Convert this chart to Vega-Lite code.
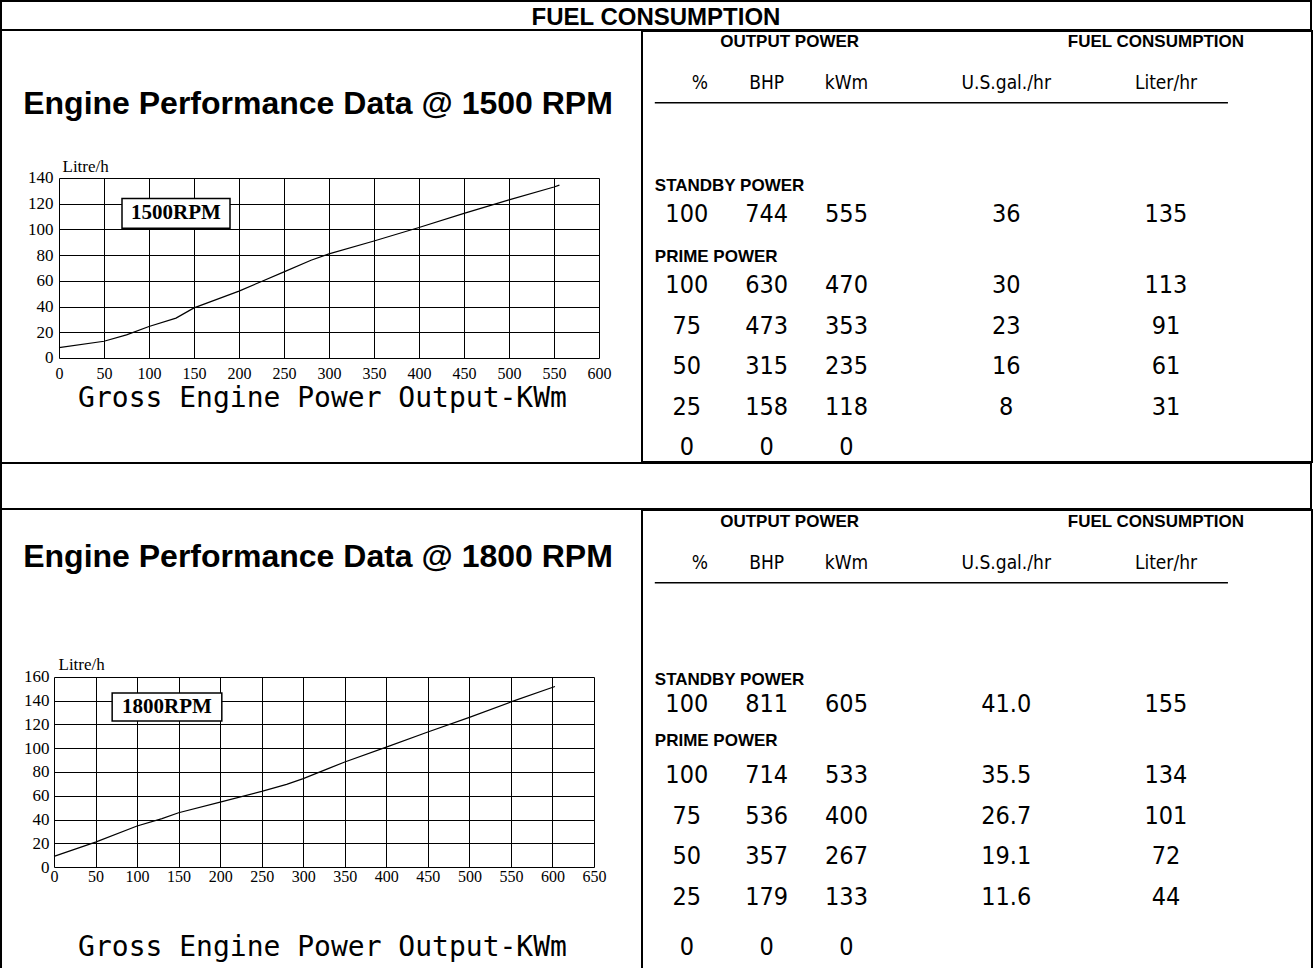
{
  "$schema": "https://vega.github.io/schema/vega-lite/v6.json",
  "padding": 0,
  "background": "white",
  "spacing": -4,
  "config": {
    "view": {"stroke": "black", "strokeWidth": 2},
    "font": "Liberation Sans",
    "mark": {"color": "black"}
  },
  "datasets": {
    "c1500": [
      {"kw": 0, "lph": 8}, {"kw": 50, "lph": 13}, {"kw": 75, "lph": 18}, {"kw": 100, "lph": 24.5},
      {"kw": 130, "lph": 31}, {"kw": 150, "lph": 39}, {"kw": 200, "lph": 52}, {"kw": 225, "lph": 59.5},
      {"kw": 250, "lph": 67}, {"kw": 280, "lph": 76}, {"kw": 300, "lph": 81}, {"kw": 350, "lph": 91},
      {"kw": 400, "lph": 101.5}, {"kw": 450, "lph": 112.5}, {"kw": 500, "lph": 123}, {"kw": 550, "lph": 133},
      {"kw": 556, "lph": 134.5}
    ],
    "c1800": [
      {"kw": 0, "lph": 9}, {"kw": 50, "lph": 21}, {"kw": 100, "lph": 34.5}, {"kw": 130, "lph": 40.7},
      {"kw": 150, "lph": 45.7}, {"kw": 200, "lph": 54.7}, {"kw": 250, "lph": 63.7}, {"kw": 280, "lph": 69.6},
      {"kw": 300, "lph": 74.4}, {"kw": 330, "lph": 82.8}, {"kw": 350, "lph": 88.4}, {"kw": 400, "lph": 101},
      {"kw": 450, "lph": 113.7}, {"kw": 500, "lph": 126}, {"kw": 550, "lph": 139}, {"kw": 603, "lph": 152}
    ],
    "perf1500": [
      {"row": "r100s", "pct": "100", "bhp": "744", "kwm": "555", "gal": "36", "lit": "135"},
      {"row": "r100", "pct": "100", "bhp": "630", "kwm": "470", "gal": "30", "lit": "113"},
      {"row": "r75", "pct": "75", "bhp": "473", "kwm": "353", "gal": "23", "lit": "91"},
      {"row": "r50", "pct": "50", "bhp": "315", "kwm": "235", "gal": "16", "lit": "61"},
      {"row": "r25", "pct": "25", "bhp": "158", "kwm": "118", "gal": "8", "lit": "31"},
      {"row": "r0", "pct": "0", "bhp": "0", "kwm": "0"}
    ],
    "perf1800": [
      {"row": "r100s", "pct": "100", "bhp": "811", "kwm": "605", "gal": "41.0", "lit": "155"},
      {"row": "r100", "pct": "100", "bhp": "714", "kwm": "533", "gal": "35.5", "lit": "134"},
      {"row": "r75", "pct": "75", "bhp": "536", "kwm": "400", "gal": "26.7", "lit": "101"},
      {"row": "r50", "pct": "50", "bhp": "357", "kwm": "267", "gal": "19.1", "lit": "72"},
      {"row": "r25", "pct": "25", "bhp": "179", "kwm": "133", "gal": "11.6", "lit": "44"},
      {"row": "r0", "pct": "0", "bhp": "0", "kwm": "0"}
    ],
    "groups": [
      {"row": "grp", "col": "bhp", "text": "OUTPUT POWER"},
      {"row": "grp", "col": "lit", "text": "FUEL CONSUMPTION"}
    ],
    "heads": [
      {"row": "hdr", "col": "pct", "text": "%"},
      {"row": "hdr", "col": "bhp", "text": "BHP"},
      {"row": "hdr", "col": "kwm", "text": "kWm"},
      {"row": "hdr", "col": "gal", "text": "U.S.gal./hr"},
      {"row": "hdr", "col": "lit", "text": "Liter/hr"}
    ],
    "underline": [{"row": "ul", "col": "pct", "end": "lit"}],
    "sections": [
      {"row": "standby", "col": "pct", "text": "STANDBY POWER"},
      {"row": "prime", "col": "pct", "text": "PRIME POWER"}
    ]
  },
  "vconcat": [
    {
      "width": 1310, "height": 29,
      "view": {"stroke": "black", "strokeWidth": 2},
      "data": {"values": [{"title": "FUEL CONSUMPTION"}]},
      "mark": {"type": "text", "font": "Liberation Sans", "fontWeight": "bold", "fontSize": 24, "align": "center", "baseline": "middle", "color": "black", "dy": 2},
      "encoding": {"text": {"field": "title", "type": "nominal"}}
    },
    {
      "bounds": "flush", "spacing": 0,
      "hconcat": [
        {"width": 0.01, "height": 431, "view": {"stroke": "black", "strokeWidth": 2}, "data": {"values": []}, "mark": "text", "encoding": {}},
        {"width": 57, "height": 431, "view": {"stroke": null}, "data": {"values": []}, "mark": "text", "encoding": {}},
        {
          "width": 540, "height": 431,
          "view": {"stroke": null},
          "resolve": {"axis": {"x": "independent", "y": "independent"}},
          "layer": [
            {
              "data": {"name": "c1500"},
              "mark": {"type": "line", "color": "black", "strokeWidth": 1.2},
              "encoding": {
                "x": {"field": "kw", "type": "quantitative",
                  "scale": {"domain": [0, 600], "nice": false, "zero": false},
                  "axis": {"orient": "top", "offset": -147, "values": [0,50,100,150,200,250,300,350,400,450,500,550,600], "tickSize": -180, "tickColor": "black", "tickWidth": 1, "labels": false, "domain": false, "grid": false, "title": null}},
                "y": {"field": "lph", "type": "quantitative",
                  "scale": {"domain": [-80.89, 254.33], "nice": false, "zero": false},
                  "axis": {"orient": "left", "values": [0,20,40,60,80,100,120,140], "grid": true, "gridColor": "black", "gridWidth": 1, "gridOpacity": 1, "domain": false, "ticks": false, "labelFont": "Liberation Serif", "labelFontSize": 17, "labelColor": "black", "labelPadding": 6, "title": "Litre/h", "titleAngle": 0, "titleAlign": "left", "titleBaseline": "bottom", "titleX": 3, "titleY": 144, "titleFont": "Liberation Serif", "titleFontSize": 17, "titleFontWeight": "normal", "titleColor": "black"}}
              }
            },
            {
              "data": {"values": [{"heading": "Engine Performance Data @ 1500 RPM"}]},
              "mark": {"type": "text", "font": "Liberation Sans", "fontWeight": "bold", "fontSize": 32, "color": "black", "align": "center", "baseline": "middle"},
              "encoding": {
                "x": {"datum": 287.8, "type": "quantitative",
                  "axis": {"orient": "bottom", "offset": -104, "values": [0,50,100,150,200,250,300,350,400,450,500,550,600], "ticks": false, "domain": false, "grid": false, "labelFont": "Liberation Serif", "labelFontSize": 16, "labelColor": "black", "labelPadding": 7, "labelFlush": false, "title": "Gross Engine Power Output-KWm", "titleFont": "DejaVu Sans Mono", "titleFontSize": 28, "titleFontWeight": "normal", "titleColor": "black", "titleBaseline": "middle", "titleX": 263, "titleY": 40}},
                "y": {"datum": 197.6, "type": "quantitative", "axis": null},
                "text": {"field": "heading", "type": "nominal"}
              }
            },
            {
              "data": {"values": [{"rpm": "1500RPM"}]},
              "mark": {"type": "rect", "fill": "white", "stroke": "black", "strokeWidth": 1.5},
              "encoding": {
                "x": {"datum": 70, "type": "quantitative", "axis": null}, "x2": {"datum": 190},
                "y": {"datum": 101, "type": "quantitative", "axis": null}, "y2": {"datum": 124}
              }
            },
            {
              "data": {"values": [{"rpm": "1500RPM"}]},
              "mark": {"type": "text", "font": "Liberation Serif", "fontWeight": "bold", "fontSize": 21, "color": "black", "align": "center", "baseline": "middle"},
              "encoding": {
                "x": {"datum": 130, "type": "quantitative", "axis": null},
                "y": {"datum": 112.5, "type": "quantitative", "axis": null},
                "text": {"field": "rpm", "type": "nominal"}
              }
            }
          ]
        },
        {"width": 43, "height": 431, "view": {"stroke": null}, "data": {"values": []}, "mark": "text", "encoding": {}},
        {
          "width": 670, "height": 431,
          "encoding": {
            "x": {"field": "col", "type": "nominal", "axis": null,
              "scale": {"type": "point", "domain": ["pct","bhp","kwm","c3","gal","c5","lit","c7"], "range": [44.8, 603.8], "padding": 0}},
            "y": {"field": "row", "type": "nominal", "axis": null,
              "scale": {"type": "point", "domain": ["grp","~1","~2","~3","hdr","~5","ul","~7","~8","~9","~10","~11","~12","~13","standby","~15","~16","r100s","~18","~19","~20","prime","~22","~23","r100","~25","~26","~27","r75","~29","~30","~31","r50","~33","~34","~35","r25","~37","~38","~39","r0"], "range": [11, 416], "padding": 0}}
          },
          "layer": [
            {
              "data": {"name": "groups"},
              "transform": [{"filter": "datum.text == 'OUTPUT POWER'"}],
              "mark": {"type": "text", "font": "Liberation Sans", "fontWeight": "bold", "fontSize": 17, "color": "black", "align": "center", "baseline": "middle", "dx": 23},
              "encoding": {"text": {"field": "text", "type": "nominal"}}
            },
            {
              "data": {"name": "groups"},
              "transform": [{"filter": "datum.text == 'FUEL CONSUMPTION'"}],
              "mark": {"type": "text", "font": "Liberation Sans", "fontWeight": "bold", "fontSize": 17, "color": "black", "align": "center", "baseline": "middle", "dx": -10},
              "encoding": {"text": {"field": "text", "type": "nominal"}}
            },
            {
              "data": {"name": "heads"},
              "transform": [{"filter": "datum.col == 'pct'"}],
              "mark": {"type": "text", "font": "DejaVu Sans Condensed, Liberation Sans", "fontSize": 19, "color": "black", "align": "center", "baseline": "middle", "dx": 13},
              "encoding": {"text": {"field": "text", "type": "nominal"}}
            },
            {
              "data": {"name": "heads"},
              "transform": [{"filter": "datum.col != 'pct'"}],
              "mark": {"type": "text", "font": "DejaVu Sans Condensed, Liberation Sans", "fontSize": 19, "color": "black", "align": "center", "baseline": "middle"},
              "encoding": {"text": {"field": "text", "type": "nominal"}}
            },
            {
              "data": {"name": "underline"},
              "mark": {"type": "rule", "color": "black", "strokeWidth": 1.5, "xOffset": -32, "x2Offset": 62},
              "encoding": {"x2": {"field": "end"}}
            },
            {
              "data": {"name": "sections"},
              "mark": {"type": "text", "font": "Liberation Sans", "fontWeight": "bold", "fontSize": 17, "color": "black", "align": "left", "baseline": "middle", "dx": -32, "dy": 2},
              "encoding": {"text": {"field": "text", "type": "nominal"}}
            },
            {
              "data": {"name": "perf1500"},
              "transform": [{"fold": ["pct", "bhp", "kwm", "gal", "lit"], "as": ["col", "text"]}, {"filter": "isValid(datum.text)"}],
              "mark": {"type": "text", "font": "DejaVu Sans Condensed, Liberation Sans", "fontSize": 25, "color": "black", "align": "center", "baseline": "middle"},
              "encoding": {"text": {"field": "text", "type": "nominal"}}
            }
          ]
        }
      ]
    },
    {"width": 1310, "height": 46, "view": {"stroke": "black", "strokeWidth": 2}, "data": {"values": []}, "mark": "text", "encoding": {}},
    {
      "bounds": "flush", "spacing": 0,
      "hconcat": [
        {"width": 0.01, "height": 462, "view": {"stroke": "black", "strokeWidth": 2}, "data": {"values": []}, "mark": "text", "encoding": {}},
        {"width": 52, "height": 462, "view": {"stroke": null}, "data": {"values": []}, "mark": "text", "encoding": {}},
        {
          "width": 540, "height": 462,
          "view": {"stroke": null},
          "resolve": {"axis": {"x": "independent", "y": "independent"}},
          "layer": [
            {
              "data": {"name": "c1800"},
              "mark": {"type": "line", "color": "black", "strokeWidth": 1.2},
              "encoding": {
                "x": {"field": "kw", "type": "quantitative",
                  "scale": {"domain": [0, 650], "nice": false, "zero": false},
                  "axis": {"orient": "top", "offset": -167, "values": [0,50,100,150,200,250,300,350,400,450,500,550,600,650], "tickSize": -190, "tickColor": "black", "tickWidth": 1, "labels": false, "domain": false, "grid": false, "title": null}},
                "y": {"field": "lph", "type": "quantitative",
                  "scale": {"domain": [-88.42, 300.63], "nice": false, "zero": false},
                  "axis": {"orient": "left", "values": [0,20,40,60,80,100,120,140,160], "grid": true, "gridColor": "black", "gridWidth": 1, "gridOpacity": 1, "domain": false, "ticks": false, "labelFont": "Liberation Serif", "labelFontSize": 17, "labelColor": "black", "labelPadding": 5, "title": "Litre/h", "titleAngle": 0, "titleAlign": "left", "titleBaseline": "bottom", "titleX": 4, "titleY": 163, "titleFont": "Liberation Serif", "titleFontSize": 17, "titleFontWeight": "normal", "titleColor": "black"}}
              }
            },
            {
              "data": {"values": [{"heading": "Engine Performance Data @ 1800 RPM"}]},
              "mark": {"type": "text", "font": "Liberation Sans", "fontWeight": "bold", "fontSize": 32, "color": "black", "align": "center", "baseline": "middle"},
              "encoding": {
                "x": {"datum": 317.8, "type": "quantitative",
                  "axis": {"orient": "bottom", "offset": -105, "values": [0,50,100,150,200,250,300,350,400,450,500,550,600,650], "ticks": false, "domain": false, "grid": false, "labelFont": "Liberation Serif", "labelFontSize": 16, "labelColor": "black", "labelPadding": 1, "labelFlush": false, "title": "Gross Engine Power Output-KWm", "titleFont": "DejaVu Sans Mono", "titleFontSize": 28, "titleFontWeight": "normal", "titleColor": "black", "titleBaseline": "middle", "titleX": 268, "titleY": 80}},
                "y": {"datum": 261.05, "type": "quantitative", "axis": null},
                "text": {"field": "heading", "type": "nominal"}
              }
            },
            {
              "data": {"values": [{"rpm": "1800RPM"}]},
              "mark": {"type": "rect", "fill": "white", "stroke": "black", "strokeWidth": 1.5},
              "encoding": {
                "x": {"datum": 70, "type": "quantitative", "axis": null}, "x2": {"datum": 202},
                "y": {"datum": 123, "type": "quantitative", "axis": null}, "y2": {"datum": 146.5}
              }
            },
            {
              "data": {"values": [{"rpm": "1800RPM"}]},
              "mark": {"type": "text", "font": "Liberation Serif", "fontWeight": "bold", "fontSize": 21, "color": "black", "align": "center", "baseline": "middle"},
              "encoding": {
                "x": {"datum": 136, "type": "quantitative", "axis": null},
                "y": {"datum": 134.75, "type": "quantitative", "axis": null},
                "text": {"field": "rpm", "type": "nominal"}
              }
            }
          ]
        },
        {"width": 48, "height": 462, "view": {"stroke": null}, "data": {"values": []}, "mark": "text", "encoding": {}},
        {
          "width": 670, "height": 462,
          "encoding": {
            "x": {"field": "col", "type": "nominal", "axis": null,
              "scale": {"type": "point", "domain": ["pct","bhp","kwm","c3","gal","c5","lit","c7"], "range": [44.8, 603.8], "padding": 0}},
            "y": {"field": "row", "type": "nominal", "axis": null,
              "scale": {"type": "point", "domain": ["grp","~1","~2","~3","hdr","~5","ul","~7","~8","~9","~10","~11","~12","~13","~14","~15","standby","~17","r100s","~19","~20","~21","prime","~23","~24","r100","~26","~27","~28","r75","~30","~31","~32","r50","~34","~35","~36","r25","~38","~39","~40","~41","r0"], "range": [12, 437.25], "padding": 0}}
          },
          "layer": [
            {
              "data": {"name": "groups"},
              "transform": [{"filter": "datum.text == 'OUTPUT POWER'"}],
              "mark": {"type": "text", "font": "Liberation Sans", "fontWeight": "bold", "fontSize": 17, "color": "black", "align": "center", "baseline": "middle", "dx": 23},
              "encoding": {"text": {"field": "text", "type": "nominal"}}
            },
            {
              "data": {"name": "groups"},
              "transform": [{"filter": "datum.text == 'FUEL CONSUMPTION'"}],
              "mark": {"type": "text", "font": "Liberation Sans", "fontWeight": "bold", "fontSize": 17, "color": "black", "align": "center", "baseline": "middle", "dx": -10},
              "encoding": {"text": {"field": "text", "type": "nominal"}}
            },
            {
              "data": {"name": "heads"},
              "transform": [{"filter": "datum.col == 'pct'"}],
              "mark": {"type": "text", "font": "DejaVu Sans Condensed, Liberation Sans", "fontSize": 19, "color": "black", "align": "center", "baseline": "middle", "dx": 13},
              "encoding": {"text": {"field": "text", "type": "nominal"}}
            },
            {
              "data": {"name": "heads"},
              "transform": [{"filter": "datum.col != 'pct'"}],
              "mark": {"type": "text", "font": "DejaVu Sans Condensed, Liberation Sans", "fontSize": 19, "color": "black", "align": "center", "baseline": "middle"},
              "encoding": {"text": {"field": "text", "type": "nominal"}}
            },
            {
              "data": {"name": "underline"},
              "mark": {"type": "rule", "color": "black", "strokeWidth": 1.5, "xOffset": -32, "x2Offset": 62},
              "encoding": {"x2": {"field": "end"}}
            },
            {
              "data": {"name": "sections"},
              "mark": {"type": "text", "font": "Liberation Sans", "fontWeight": "bold", "fontSize": 17, "color": "black", "align": "left", "baseline": "middle", "dx": -32, "dy": -4},
              "encoding": {"text": {"field": "text", "type": "nominal"}}
            },
            {
              "data": {"name": "perf1800"},
              "transform": [{"fold": ["pct", "bhp", "kwm", "gal", "lit"], "as": ["col", "text"]}, {"filter": "isValid(datum.text)"}],
              "mark": {"type": "text", "font": "DejaVu Sans Condensed, Liberation Sans", "fontSize": 25, "color": "black", "align": "center", "baseline": "middle"},
              "encoding": {"text": {"field": "text", "type": "nominal"}}
            }
          ]
        }
      ]
    }
  ]
}
